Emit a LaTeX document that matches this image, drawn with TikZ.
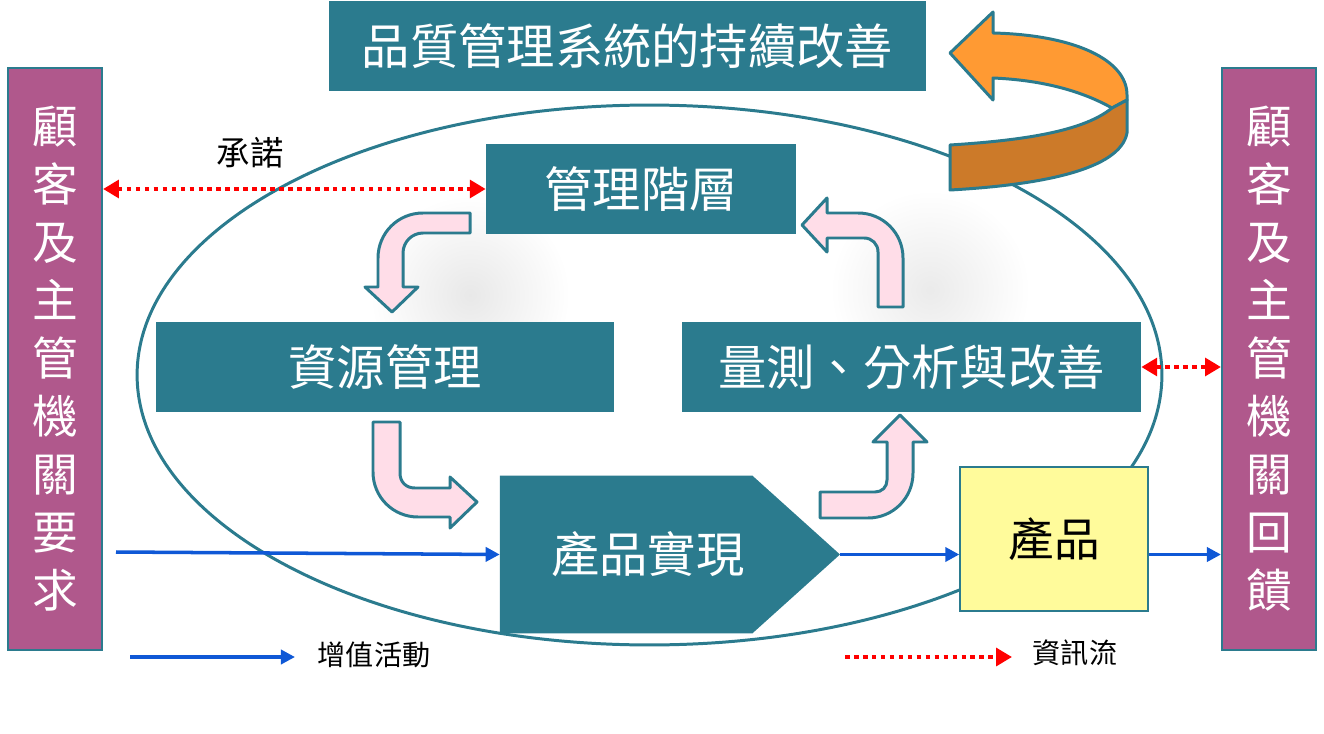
\documentclass[tikz,border=0pt]{standalone}
\usepackage{fontspec}
\setmainfont{Noto Sans CJK TC}
\usetikzlibrary{arrows.meta,shapes.symbols}
\definecolor{qteal}{HTML}{2B7B8E}
\definecolor{qpurple}{HTML}{B0588C}
\definecolor{qyellow}{HTML}{FFFB9B}
\definecolor{qpink}{HTML}{FFDDE8}
\definecolor{qorange}{HTML}{FF9A33}
\definecolor{qdark}{HTML}{CC7A29}
\definecolor{qblue}{HTML}{0F58D6}
\tikzset{infotip/.tip={Triangle[length=9pt,width=10pt]}}

\begin{document}
\begin{tikzpicture}[x=0.02cm, y=-0.02cm, line width=1.5pt,
	box/.style={fill=qteal, draw=qteal, text=white, inner sep=0pt, font=\fontsize{27.5}{30}\selectfont},
	side/.style={fill=qpurple, draw=qteal, line width=1.2pt, text=white, align=center, minimum width=1.88cm, minimum height=11.64cm, font=\fontsize{26}{33}\selectfont},
	bent/.style={fill=qpink, draw=qteal, line width=1.7pt, line join=round},
	flow/.style={qblue, line width=2pt, -{Triangle[length=8pt,width=8pt]}},
	info/.style={red, line width=2.8pt, dash pattern=on 2.6pt off 2.5pt},
	legend/.style={font=\fontsize{16}{18}\selectfont}]
\useasboundingbox (0,0) rectangle (1324,733);

\shade[inner color=black!9, outer color=white] (470,295) circle [radius=2cm];
\shade[inner color=black!8, outer color=white] (930,290) circle [radius=2cm];

\draw[qteal, line width=1.7pt] (649.5,375) ellipse [x radius=10.25cm, y radius=5.4cm];

\node[box, minimum width=11.9cm, minimum height=1.76cm] (title) at (627.5,46) {品質管理系統的持續改善};
\node[side] (req) at (55,359) {顧\\客\\及\\主\\管\\機\\關\\要\\求};
\node[side] (fb) at (1269,359) {顧\\客\\及\\主\\管\\機\\關\\回\\饋};
\node[box, minimum width=6.16cm, minimum height=1.76cm] (mgmt) at (641,189) {管理階層};
\node[box, minimum width=9.12cm, minimum height=1.76cm] (res) at (385,367) {資源管理};
\node[box, minimum width=9.14cm, minimum height=1.76cm] (meas) at (911.5,367) {量測、分析與改善};
\node[box, signal, signal to=east, signal pointer angle=84, minimum width=6.74cm, minimum height=3.1cm] (rz) at (626.5,554.5) {\hspace*{0.85cm}產品實現};
\node[fill=qyellow, draw=qteal, line width=0.8pt, minimum width=3.76cm, minimum height=2.88cm, font=\fontsize{26}{30}\selectfont] (prod) at (1054,539) {產品};

% continual improvement arrow
\draw[fill=qorange, draw=qteal, line width=1.7pt, line join=round] (950,53) -- (993,12) -- (993,33) .. controls (1075,35) and (1127,60) .. (1127,95) -- (1127,100) -- (1112,108) .. controls (1080,90) and (1040,80) .. (993,78) -- (993,100) -- cycle;
\draw[fill=qdark, draw=qteal, line width=1.7pt, line join=round] (1112,108) -- (1127,100) -- (1127,133) .. controls (1120,170) and (1040,185) .. (950,190) -- (950,145) .. controls (1030,140) and (1085,130) .. (1112,108) -- cycle;

\draw[bent] (470,213) -- (423,213) .. controls (398,213) and (378,233) .. (378,258) -- (378,287) -- (365,287) -- (392,312) -- (418,287) -- (403,287) -- (403,253) .. controls (403,242) and (412,233) .. (423,233) -- (470,233) -- cycle;
\draw[bent] (373,422) -- (400,422) -- (400,473) .. controls (400,482) and (406,488) .. (415,488) -- (450,488) -- (450,477) -- (477,502) -- (450,528) -- (450,517) -- (418,517) .. controls (393,517) and (373,497) .. (373,472) -- cycle;
\draw[bent] (820,492) -- (875,492) .. controls (882,492) and (887,487) .. (887,480) -- (887,442) -- (873,442) -- (900,415) -- (927,442) -- (913,442) -- (913,473) .. controls (913,498) and (893,518) .. (868,518) -- (820,518) -- cycle;
\draw[bent] (878,307) -- (878,252) .. controls (878,244) and (872,238) .. (864,238) -- (827,238) -- (827,252) -- (802,225) -- (827,198) -- (827,213) -- (858,213) .. controls (883,213) and (903,233) .. (903,258) -- (903,307) -- cycle;

\coordinate (in) at (116,552);
\draw[flow] (in) -- (rz.west);
\draw[flow] (rz.east) -- (prod.west |- rz.east);
\draw[flow] (prod.east |- rz.east) -- (fb.west |- rz.east);

\draw[info, infotip-infotip] (req.east |- mgmt.west) -- (mgmt.west);
\draw[info, infotip-infotip] (meas.east) -- (fb.west |- meas.east);
\node[font=\fontsize{19}{21}\selectfont] (promise) at (250,153) {承諾};

\coordinate (va1) at (130,657);
\coordinate (va2) at (295,657);
\draw[flow] (va1) -- (va2);
\node[legend] (valuetext) at (374,655) {增值活動};
\coordinate (if1) at (845,657);
\coordinate (if2) at (1012,657);
\draw[info, -infotip] (if1) -- (if2);
\node[legend] (infotext) at (1075,653) {資訊流};
\end{tikzpicture}
\end{document}
